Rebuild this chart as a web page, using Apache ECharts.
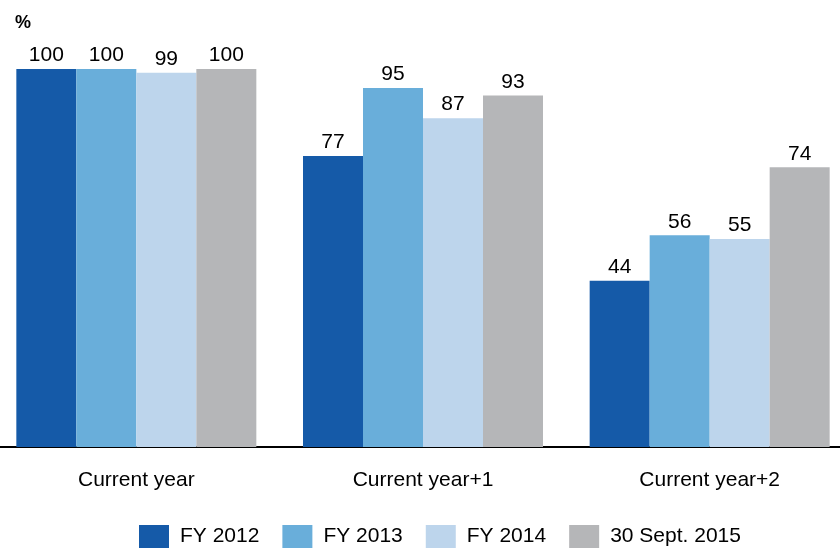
<!DOCTYPE html>
<html>
<head>
<meta charset="utf-8">
<style>
  html, body { margin: 0; padding: 0; background: #fff; overflow: hidden; width: 840px; height: 549px; }
  /* the plot is slightly wider than the page, so the outer groups sit near the edges */
  #chart { position: absolute; left: -7px; top: 0; width: 860px; height: 549px; }
</style>
<script src="https://cdn.jsdelivr.net/npm/echarts@6/dist/echarts.min.js"></script>
</head>
<body>
<div id="chart"></div>
<script>
// Share of planned revenue already covered, by horizon
const categories = ['Current year', 'Current year+1', 'Current year+2'];
const seriesNames = ['FY 2012', 'FY 2013', 'FY 2014', '30 Sept. 2015'];
const fy2012 = [100, 77, 44];
const fy2013 = [100, 95, 56];
const fy2014 = [99, 87, 55];
const sept2015 = [100, 93, 74];
const seriesColors = ['#155AA8', '#69AEDA', '#BDD5EC', '#B5B6B8'];

const font = 'Arial, "Liberation Sans", sans-serif';
const values = [fy2012, fy2013, fy2014, sept2015];
const shift = 7; // canvas offset to the left of the page

const chart = echarts.init(document.getElementById('chart'), null, { renderer: 'canvas' });
chart.setOption({
  animation: false,
  backgroundColor: '#ffffff',
  textStyle: { fontFamily: font },
  graphic: [{
    type: 'text',
    left: 15 + shift,
    top: 14,
    style: { text: '%', font: 'bold 18px ' + font, fill: '#000' }
  }],
  legend: {
    left: 139 + shift,
    top: 525,
    padding: 0,
    itemWidth: 30,
    itemHeight: 23,
    itemGap: 23,
    icon: 'rect',
    textStyle: { fontSize: 21, color: '#000', fontFamily: font, padding: [0, 0, 0, 6] },
    data: seriesNames
  },
  grid: { left: 0, right: 0, top: 69, bottom: 102, containLabel: false },
  xAxis: {
    type: 'category',
    data: categories,
    axisLine: { show: true, lineStyle: { color: '#000', width: 2 } },
    axisTick: { show: false },
    axisLabel: { fontSize: 21, color: '#000', margin: 23, fontFamily: font },
    splitLine: { show: false }
  },
  yAxis: {
    type: 'value',
    min: 0,
    max: 100,
    show: false
  },
  series: seriesNames.map((name, i) => ({
    name: name,
    type: 'bar',
    data: values[i],
    barWidth: 60,
    barGap: '0%',
    itemStyle: { color: seriesColors[i] },
    label: {
      show: true,
      position: 'top',
      distance: 3,
      fontSize: 21,
      color: '#000',
      fontFamily: font
    }
  }))
});
</script>
</body>
</html>
